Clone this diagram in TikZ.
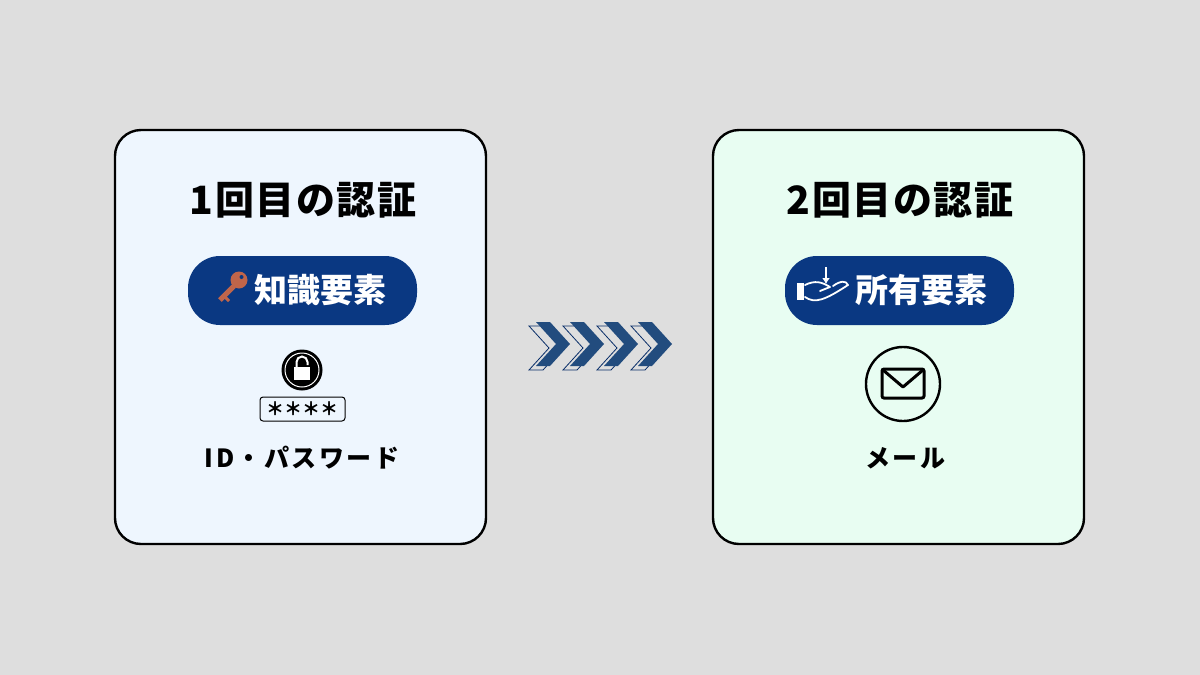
\documentclass[tikz,border=0pt]{standalone}
\usepackage{fontspec}
\usetikzlibrary{arrows.meta}
\setmainfont{Noto Sans CJK JP}
\definecolor{bg}{HTML}{DEDEDE}
\definecolor{lb}{HTML}{EEF6FE}
\definecolor{lg}{HTML}{E8FDF2}
\definecolor{navy}{HTML}{0A3882}
\definecolor{chev}{HTML}{224C7E}
\definecolor{keyc}{HTML}{C0654A}
\tikzset{
 card/.style={draw=black,line width=2.4pt,rounded corners=26pt},
 pill/.style={fill=navy,rounded corners=32pt},
 ttl/.style={font=\bfseries\fontsize{39}{42}\selectfont\addfontfeature{LetterSpace=4}},
 pilltxt/.style={font=\bfseries\fontsize{33}{36}\selectfont,text=white},
 lbl/.style={font=\bfseries\fontsize{25}{28}\selectfont\addfontfeature{LetterSpace=10}},
}
\begin{document}
\begin{tikzpicture}[x=1pt,y=-1pt]
\fill[bg] (0,0) rectangle (1200,675);
\useasboundingbox (0,0) rectangle (1200,675);
% cards
\draw[card,fill=lb] (115,130) rectangle (486,544);
\draw[card,fill=lg] (713,130) rectangle (1084,544);
\node[ttl] (t1) at (303,200) {1回目の認証};
\node[ttl] (t2) at (900,200) {2回目の認証};
% pills
\fill[pill] (188,256) rectangle (417,325);
\fill[pill] (785,256) rectangle (1014,325);
\node[pilltxt] (p1) at (320,290) {知識要素};
\node[pilltxt] (p2) at (921,290) {所有要素};
% key icon
\fill[keyc] (239,280) circle (8.5);
\fill[navy] (241.5,277) circle (2);
\draw[keyc,line width=5pt] (234,286) -- (220,300);
\draw[keyc,line width=3pt] (224,296) -- (229,301);
% hand icon
\fill[white] (797,283) rectangle (804,300);
\draw[white,line width=1.8pt,line cap=round,line join=round]
 (805,285) .. controls (815,280) and (822,282) .. (830,287)
 -- (820,291)
 (805,297) .. controls (815,304) and (825,300) .. (848,285)
 .. controls (846,280) and (840,281) .. (833,286);
\draw[white,line width=2.4pt,-{Latex[length=6pt,width=8pt]}] (826,267) -- (826,284);
% lock icon
\node[circle,draw=black,line width=1pt,fill=black,minimum size=40pt,inner sep=0] (lock) at (302,370) {};
\draw[white,line width=1pt] (lock) circle (17);
\draw[white,line width=2pt] (296.5,368) -- (296.5,362) arc (180:360:5.5) -- (307.5,365);
\fill[white] (294,367) rectangle (310,380);
\node[draw=black,line width=1pt,rounded corners=3pt,minimum width=85pt,minimum height=24pt,inner sep=0,
 font=\bfseries\fontsize{18}{18}\selectfont] (pw) at (302.5,409) {＊＊＊＊};
\node[lbl] (l1) at (302,458) {ID・パスワード};
% mail icon
\node[circle,draw=black,line width=2.4pt,minimum size=74pt,inner sep=0] (mail) at (903,384) {};
\draw[black,line width=3pt,rounded corners=2pt] (882,369) rectangle (924,398);
\draw[black,line width=3pt,line join=round] (883,370) -- (903,387) -- (923,370);
\node[lbl] (l2) at (905,458) {メール};
% chevrons
\foreach \i in {0,1,2,3}{
 \begin{scope}[shift={(536+\i*34,322)}]
 \draw[navy!80!black,line width=0.8pt,fill=bg] (-7,4) -- (7,4) -- (27,26) -- (7,48) -- (-7,48) -- (13,26) -- cycle;
 \fill[chev] (0,0) -- (14,0) -- (34,22) -- (14,44) -- (0,44) -- (20,22) -- cycle;
 \end{scope}
}
\end{tikzpicture}
\end{document}
